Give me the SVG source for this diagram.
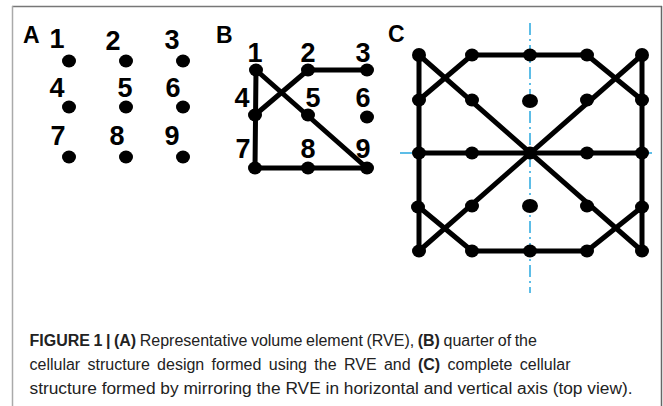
<svg xmlns="http://www.w3.org/2000/svg" width="663" height="406" viewBox="0 0 663 406">
<style>
.num{font-family:"Liberation Sans",Arial,sans-serif;font-weight:700;font-size:27px;fill:#000;text-anchor:middle}
.lbl{font-family:"Liberation Sans",Arial,sans-serif;font-weight:700;font-size:23px;fill:#000}
.cap{font-family:"Liberation Sans",Arial,sans-serif;font-size:16px;fill:#222}
.b{font-weight:700}
.dot{fill:#000}
.edge{stroke:#000;stroke-width:5;stroke-linecap:round;fill:none}
.axis{stroke:#29a8e0;stroke-width:1.5;stroke-dasharray:12 4 2 4;fill:none}
</style>
<rect width="663" height="406" fill="#fff"/>
<g id="frame" fill="none">
<line x1="12" y1="6.5" x2="662" y2="6.5" stroke="#777" stroke-width="1.5"/>
<line x1="12.5" y1="6" x2="12.5" y2="406" stroke="#aaa" stroke-width="1.5"/>
<line x1="661.5" y1="6" x2="661.5" y2="406" stroke="#666" stroke-width="1.5"/>
</g>
<g id="panelA">
<text class="lbl" x="23" y="43">A</text>
<g id="A1"><text class="num" x="57" y="48">1</text><ellipse class="dot" cx="69" cy="61" rx="7" ry="6.5"/></g>
<g id="A2"><text class="num" x="113" y="50">2</text><ellipse class="dot" cx="126" cy="61" rx="7" ry="6.5"/></g>
<g id="A3"><text class="num" x="172" y="49">3</text><ellipse class="dot" cx="183" cy="61" rx="7" ry="6.5"/></g>
<g id="A4"><text class="num" x="57" y="97">4</text><ellipse class="dot" cx="69" cy="107" rx="7" ry="6.5"/></g>
<g id="A5"><text class="num" x="125" y="97">5</text><ellipse class="dot" cx="126" cy="107" rx="7" ry="6.5"/></g>
<g id="A6"><text class="num" x="173" y="97">6</text><ellipse class="dot" cx="183" cy="107" rx="7" ry="6.5"/></g>
<g id="A7"><text class="num" x="58" y="145">7</text><ellipse class="dot" cx="69" cy="157" rx="7" ry="6.5"/></g>
<g id="A8"><text class="num" x="117" y="145">8</text><ellipse class="dot" cx="126" cy="157" rx="7" ry="6.5"/></g>
<g id="A9"><text class="num" x="172" y="145">9</text><ellipse class="dot" cx="183" cy="157" rx="7" ry="6.5"/></g>
</g>
<g id="panelB">
<text class="lbl" x="216" y="43">B</text>
<g id="B-connectors">
<line class="edge" x1="256" y1="70" x2="255" y2="168"/>
<line class="edge" x1="255" y1="168" x2="367" y2="168"/>
<line class="edge" x1="308" y1="70" x2="367" y2="70"/>
<line class="edge" x1="308" y1="70" x2="255" y2="115"/>
<line class="edge" x1="256" y1="70" x2="367" y2="168"/>
</g>
<g id="B1"><text class="num" x="255" y="62">1</text><ellipse class="dot" cx="256" cy="70" rx="7" ry="6.5"/></g>
<g id="B2"><text class="num" x="308" y="62">2</text><ellipse class="dot" cx="308" cy="70" rx="7" ry="6.5"/></g>
<g id="B3"><text class="num" x="363" y="62">3</text><ellipse class="dot" cx="367" cy="70" rx="7" ry="6.5"/></g>
<g id="B4"><text class="num" x="242" y="107">4</text><ellipse class="dot" cx="255" cy="115" rx="7" ry="6.5"/></g>
<g id="B5"><text class="num" x="313" y="107">5</text><ellipse class="dot" cx="308" cy="115" rx="7" ry="6.5"/></g>
<g id="B6"><text class="num" x="363" y="107">6</text><ellipse class="dot" cx="367" cy="117" rx="7" ry="6.5"/></g>
<g id="B7"><text class="num" x="243" y="158">7</text><ellipse class="dot" cx="255" cy="168" rx="7" ry="6.5"/></g>
<g id="B8"><text class="num" x="308" y="158">8</text><ellipse class="dot" cx="308" cy="168" rx="7" ry="6.5"/></g>
<g id="B9"><text class="num" x="363" y="158">9</text><ellipse class="dot" cx="367" cy="168" rx="7" ry="6.5"/></g>
</g>
<g id="panelC">
<text class="lbl" x="388" y="42">C</text>
<g id="axes">
<line class="axis" x1="530" y1="23" x2="530" y2="293"/>
<line class="axis" x1="400" y1="153" x2="652" y2="153"/>
</g>
<g id="C-connectors">
<line class="edge" x1="419" y1="55" x2="419" y2="251"/>
<line class="edge" x1="642" y1="55" x2="642" y2="251"/>
<line class="edge" x1="472" y1="55" x2="587" y2="55"/>
<line class="edge" x1="472" y1="251" x2="587" y2="251"/>
<line class="edge" x1="419" y1="153" x2="642" y2="153" stroke-width="7"/>
<line class="edge" x1="472" y1="55" x2="419" y2="100"/>
<line class="edge" x1="587" y1="55" x2="642" y2="100"/>
<line class="edge" x1="472" y1="251" x2="419" y2="207"/>
<line class="edge" x1="587" y1="251" x2="642" y2="207"/>
<line class="edge" x1="419" y1="55" x2="642" y2="251"/>
<line class="edge" x1="642" y1="55" x2="419" y2="251"/>
</g>
<g id="C-nodes">
<ellipse class="dot" cx="419" cy="55" rx="7" ry="7"/>
<ellipse class="dot" cx="472" cy="55" rx="7" ry="6.5"/>
<ellipse class="dot" cx="530" cy="55" rx="7" ry="6.5"/>
<ellipse class="dot" cx="587" cy="55" rx="7" ry="6.5"/>
<ellipse class="dot" cx="642" cy="55" rx="7" ry="7"/>
<ellipse class="dot" cx="419" cy="100" rx="7" ry="6.5"/>
<ellipse class="dot" cx="472" cy="100" rx="7" ry="6.5"/>
<ellipse class="dot" cx="530" cy="101" rx="8" ry="7"/>
<ellipse class="dot" cx="587" cy="100" rx="7" ry="6.5"/>
<ellipse class="dot" cx="642" cy="100" rx="7" ry="6.5"/>
<ellipse class="dot" cx="419" cy="153" rx="7" ry="6.5"/>
<ellipse class="dot" cx="472" cy="153" rx="7" ry="6.5"/>
<ellipse class="dot" cx="530" cy="153" rx="7" ry="6.5"/>
<ellipse class="dot" cx="587" cy="153" rx="7" ry="6.5"/>
<ellipse class="dot" cx="642" cy="153" rx="7" ry="6.5"/>
<ellipse class="dot" cx="418" cy="207" rx="7" ry="6.5"/>
<ellipse class="dot" cx="472" cy="206" rx="7" ry="6.5"/>
<ellipse class="dot" cx="530" cy="206" rx="8" ry="7"/>
<ellipse class="dot" cx="587" cy="206" rx="7" ry="6.5"/>
<ellipse class="dot" cx="642" cy="207" rx="7" ry="6.5"/>
<ellipse class="dot" cx="419" cy="251" rx="7" ry="6.5"/>
<ellipse class="dot" cx="472" cy="251" rx="7" ry="6.5"/>
<ellipse class="dot" cx="530" cy="251" rx="7" ry="6.5"/>
<ellipse class="dot" cx="587" cy="251" rx="7" ry="6.5"/>
<ellipse class="dot" cx="642" cy="251" rx="7" ry="6.5"/>
</g>
</g>
<g id="caption">
<text class="cap" x="29.5" y="346" word-spacing="-0.9"><tspan class="b">FIGURE 1 | (A)</tspan> Representative volume element (RVE), <tspan class="b">(B)</tspan> quarter of the</text>
<text class="cap" x="29.5" y="370" word-spacing="2.9">cellular structure design formed using the RVE and <tspan class="b">(C)</tspan> complete cellular</text>
<text class="cap" x="29.5" y="394" textLength="603" lengthAdjust="spacingAndGlyphs">structure formed by mirroring the RVE in horizontal and vertical axis (top view).</text>
</g>
</svg>
